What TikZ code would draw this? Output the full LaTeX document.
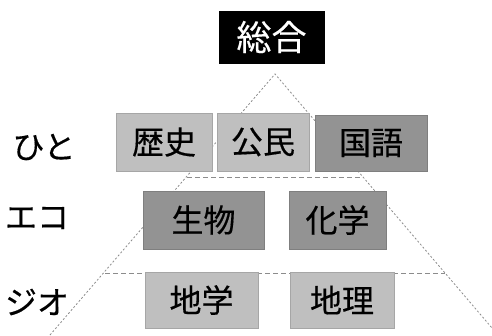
\documentclass[tikz,border=0pt]{standalone}
\usepackage{fontspec}
\newfontfamily\jp[FakeBold=0.4]{Noto Sans CJK JP}
\definecolor{lightbox}{HTML}{BFBFBF}
\definecolor{darkbox}{HTML}{939393}
\definecolor{lightedge}{HTML}{A6A6A6}
\definecolor{darkedge}{HTML}{7F7F7F}
\definecolor{guide}{HTML}{8C8C8C}
\tikzset{
  subj/.style={rectangle, inner sep=0pt, font=\jp\fontsize{32}{32}\selectfont, text=black},
  lightsubj/.style={subj, fill=lightbox, draw=lightedge, line width=0.6pt},
  darksubj/.style={subj, fill=darkbox, draw=darkedge, line width=0.6pt},
  toptitle/.style={rectangle, inner sep=0pt, fill=black, draw=black, text=white, font=\jp\fontsize{35}{35}\selectfont},
  rowlabel/.style={inner sep=0pt, font=\jp\fontsize{32}{32}\selectfont, text=black},
  slope/.style={draw=guide, line width=0.8pt, dash pattern=on 2pt off 2pt},
  level/.style={draw=guide, line width=0.9pt, dash pattern=on 5pt off 3pt}
}
\begin{document}
\begin{tikzpicture}[x=1pt,y=-1pt]
\useasboundingbox (0,0) rectangle (492,335);
\clip (0,0) rectangle (492,335);
% guide lines
\coordinate (apex) at (275,74);
\coordinate (leftend) at (50,335);
\coordinate (rightend) at (498,335);
\coordinate (h1l) at (187,177);
\coordinate (h1r) at (363,177);
\coordinate (h2l) at (105,273);
\coordinate (h2r) at (445,273);
\draw[slope] (leftend) -- (apex) -- (rightend);
\draw[level] (h1l) -- (h1r);
\draw[level] (h2l) -- (h2r);
% title
\node[toptitle, minimum width=105pt, minimum height=52pt] (sogo) at (271.5,37) {総合};
% row labels
\node[rowlabel] (hito) at (44,147) {ひと};
\node[rowlabel] (eco) at (37,218) {エコ};
\node[rowlabel] (geo) at (37,302) {ジオ};
% boxes
\node[lightsubj, minimum width=96pt, minimum height=58pt] (rekishi) at (164,142) {歴史};
\node[lightsubj, minimum width=92pt, minimum height=58pt] (komin) at (263,142) {公民};
\node[darksubj, minimum width=112pt, minimum height=56pt] (kokugo) at (371,143) {国語};
\node[darksubj, minimum width=121pt, minimum height=58pt] (seibutsu) at (203.5,220) {生物};
\node[darksubj, minimum width=97pt, minimum height=58pt] (kagaku) at (337.5,220) {化学};
\node[lightsubj, minimum width=113pt, minimum height=56pt] (chigaku) at (201.5,300) {地学};
\node[lightsubj, minimum width=104pt, minimum height=56pt] (chiri) at (342,300) {地理};
\end{tikzpicture}
\end{document}
